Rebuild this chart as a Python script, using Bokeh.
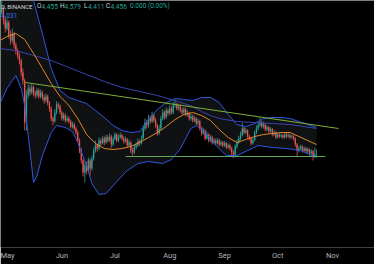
from bokeh.plotting import figure
from bokeh.models import Range1d, FixedTicker, ColumnDataSource
from bokeh.embed import file_html
from bokeh.resources import INLINE
from bokeh.core.properties import value

# ---------------- data (daily candles, day 0 = May 1) ----------------
days = list(range(-4, 176))
first_open = 7.90
close = [
    8.00, 8.10, 7.80, 7.60, 7.75, 7.43, 7.30, 7.48, 7.18, 7.05,
    6.93, 6.80, 6.50, 6.30, 5.25, 5.93, 6.10, 6.00, 6.13, 5.98,
    5.93, 6.05, 5.90, 6.00, 5.88, 5.80, 5.90, 5.73, 5.60, 5.35,
    5.28, 5.50, 5.70, 5.65, 5.50, 5.35, 5.43, 5.30, 5.35, 5.28,
    5.15, 5.20, 5.10, 5.00, 4.80, 4.55, 4.30, 4.00, 4.18, 4.05,
    4.30, 4.10, 4.35, 4.55, 4.68, 4.60, 4.80, 4.73, 4.85, 4.75,
    4.88, 4.80, 4.90, 4.70, 4.83, 4.95, 4.80, 4.88, 4.93, 4.85,
    4.78, 4.83, 4.68, 4.75, 4.55, 4.50, 4.63, 4.68, 4.78, 4.73,
    4.85, 5.10, 5.25, 5.18, 5.35, 5.28, 5.43, 5.30, 5.18, 4.98,
    5.10, 5.35, 5.50, 5.38, 5.55, 5.48, 5.60, 5.50, 5.68, 5.70,
    5.60, 5.65, 5.55, 5.50, 5.58, 5.45, 5.48, 5.35, 5.40, 5.30,
    5.35, 5.23, 5.28, 5.10, 4.98, 5.05, 4.85, 4.95, 4.80, 4.88,
    4.75, 4.80, 4.73, 4.80, 4.70, 4.75, 4.68, 4.73, 4.63, 4.68,
    4.60, 4.50, 4.45, 4.65, 4.75, 4.85, 4.93, 5.10, 5.00, 5.05,
    4.90, 4.85, 4.73, 4.80, 5.00, 5.10, 5.18, 5.25, 5.15, 5.20,
    5.08, 5.13, 5.03, 5.08, 4.95, 5.00, 4.88, 4.95, 4.90, 4.93,
    4.88, 4.95, 4.90, 4.93, 4.88, 4.90, 4.85, 4.70, 4.55, 4.60,
    4.65, 4.55, 4.60, 4.53, 4.58, 4.48, 4.53, 4.40, 4.455, 4.456,
]
high = [
    8.25, 8.35, 8.15, 7.90, 7.85, 7.80, 7.55, 7.60, 7.52, 7.25,
    7.10, 7.00, 6.85, 6.60, 6.35, 6.05, 6.20, 6.18, 6.22, 6.18,
    6.05, 6.12, 6.10, 6.08, 6.05, 5.95, 5.98, 5.95, 5.78, 5.65,
    5.40, 5.58, 5.78, 5.75, 5.70, 5.55, 5.50, 5.48, 5.42, 5.40,
    5.32, 5.27, 5.25, 5.15, 5.05, 4.85, 4.62, 4.35, 4.25, 4.28,
    4.38, 4.35, 4.42, 4.62, 4.80, 4.72, 4.88, 4.85, 4.92, 4.90,
    4.95, 4.93, 4.98, 4.94, 4.90, 5.00, 4.98, 4.95, 5.00, 4.97,
    4.90, 4.90, 4.86, 4.82, 4.78, 4.62, 4.70, 4.75, 4.85, 4.82,
    4.92, 5.18, 5.35, 5.32, 5.45, 5.42, 5.52, 5.48, 5.36, 5.22,
    5.18, 5.42, 5.58, 5.55, 5.62, 5.60, 5.68, 5.65, 5.76, 5.82,
    5.75, 5.72, 5.70, 5.62, 5.64, 5.62, 5.55, 5.52, 5.47, 5.45,
    5.42, 5.38, 5.35, 5.32, 5.15, 5.12, 5.08, 5.02, 4.98, 4.94,
    4.92, 4.86, 4.85, 4.86, 4.84, 4.80, 4.79, 4.78, 4.76, 4.73,
    4.72, 4.64, 4.55, 4.70, 4.82, 4.92, 5.02, 5.25, 5.15, 5.12,
    5.08, 4.95, 4.88, 4.86, 5.05, 5.18, 5.28, 5.38, 5.30, 5.27,
    5.23, 5.18, 5.16, 5.13, 5.11, 5.06, 5.03, 5.00, 4.98, 4.98,
    4.96, 5.00, 4.99, 4.98, 4.96, 4.95, 4.94, 4.88, 4.74, 4.66,
    4.70, 4.68, 4.65, 4.64, 4.62, 4.60, 4.58, 4.56, 4.62, 4.579,
]
low = [
    7.85, 7.95, 7.70, 7.50, 7.55, 7.35, 7.20, 7.25, 7.10, 6.95,
    6.85, 6.70, 6.40, 6.20, 5.05, 5.05, 5.85, 5.92, 5.95, 5.90,
    5.85, 5.88, 5.85, 5.85, 5.80, 5.72, 5.75, 5.68, 5.52, 5.28,
    5.18, 5.25, 5.45, 5.58, 5.45, 5.30, 5.30, 5.25, 5.26, 5.22,
    5.10, 5.10, 5.05, 4.95, 4.75, 4.48, 4.22, 3.90, 3.75, 3.95,
    4.00, 3.93, 4.05, 4.30, 4.50, 4.52, 4.56, 4.65, 4.70, 4.68,
    4.72, 4.75, 4.76, 4.62, 4.66, 4.80, 4.75, 4.76, 4.84, 4.80,
    4.72, 4.74, 4.62, 4.64, 4.48, 4.42, 4.46, 4.58, 4.64, 4.66,
    4.70, 4.82, 5.05, 5.10, 5.12, 5.22, 5.24, 5.25, 5.12, 4.92,
    4.94, 5.06, 5.30, 5.32, 5.34, 5.42, 5.44, 5.45, 5.46, 5.62,
    5.55, 5.55, 5.50, 5.44, 5.45, 5.40, 5.40, 5.30, 5.30, 5.25,
    5.26, 5.18, 5.18, 5.04, 4.92, 4.94, 4.80, 4.82, 4.75, 4.76,
    4.70, 4.72, 4.68, 4.70, 4.65, 4.66, 4.63, 4.64, 4.58, 4.60,
    4.55, 4.44, 4.36, 4.42, 4.60, 4.72, 4.80, 4.90, 4.95, 4.96,
    4.85, 4.80, 4.68, 4.70, 4.78, 4.96, 5.05, 5.14, 5.10, 5.10,
    5.03, 5.04, 4.98, 5.00, 4.90, 4.92, 4.84, 4.85, 4.86, 4.87,
    4.84, 4.85, 4.86, 4.87, 4.84, 4.85, 4.80, 4.65, 4.38, 4.50,
    4.56, 4.50, 4.52, 4.48, 4.49, 4.42, 4.44, 4.30, 4.36, 4.411,
]

# Bollinger basis (orange)
basis_days = [-4, 0, 5, 10, 15, 20, 25, 30, 35, 40, 45, 50, 55, 60, 65, 70, 75, 80, 85,
              90, 95, 100, 105, 110, 115, 120, 125, 130, 135, 140, 145, 150, 155, 160,
              165, 170, 175]
basis_vals = [7.30, 7.40, 7.475, 7.325, 6.975, 6.60, 6.225, 5.90, 5.675, 5.35, 4.95,
              4.725, 4.60, 4.575, 4.60, 4.65, 4.75, 4.875, 5.00, 5.15, 5.325, 5.45,
              5.50, 5.425, 5.30, 5.075, 4.875, 4.75, 4.825, 4.90, 4.95, 4.975, 5.00,
              5.00, 4.90, 4.80, 4.70]
# Bollinger upper band
upper_days = basis_days
upper_vals = [9.85, 9.55, 9.175, 8.825, 8.30, 7.475, 6.60, 6.05, 5.875, 5.80, 5.725,
              5.55, 5.375, 5.175, 5.05, 5.00, 5.025, 5.325, 5.575, 5.75, 5.85, 5.825,
              5.80, 5.875, 5.875, 5.75, 5.45, 5.20, 5.15, 5.225, 5.35, 5.375, 5.375,
              5.35, 5.275, 5.20, 5.125]
# Bollinger lower band
lower_days = [-4, 0, 3, 5, 8, 10, 12, 15, 17, 20, 25, 28, 33, 37, 40, 45, 48, 52, 56,
              62, 68, 74, 80, 88, 93, 98, 104, 107, 112, 117, 124, 130, 136, 142, 150,
              158, 166, 175]
lower_vals = [5.725, 6.10, 6.30, 6.425, 6.10, 5.675, 4.925, 3.75, 3.925, 4.425, 5.00,
              5.175, 5.125, 5.025, 4.75, 4.175, 3.725, 3.45, 3.475, 3.775, 4.05, 4.225,
              4.275, 4.225, 4.325, 4.60, 5.10, 5.175, 5.00, 4.725, 4.425, 4.425, 4.55,
              4.675, 4.625, 4.60, 4.55, 4.375]
# slow moving average (dark blue)
slow_days = [-4, 5, 15, 25, 35, 45, 55, 65, 75, 85, 95, 100, 105, 110, 115, 120, 130,
             140, 150, 160, 175]
slow_vals = [7.10, 7.05, 6.925, 6.80, 6.625, 6.45, 6.275, 6.125, 6.025, 5.925, 5.80,
             5.725, 5.65, 5.525, 5.425, 5.35, 5.275, 5.25, 5.225, 5.20, 5.10]
# drawn trend lines
trend_days = [10.46, 187.4]
trend_vals = [6.25, 5.10]
support_days = [67, 180]
support_vals = [4.40, 4.40]

month_ticks = [0, 31, 61, 92, 123, 153, 184]
month_labels = ["May", "Jun", "Jul", "Aug", "Sep", "Oct", "Nov"]

# ---------------- figure ----------------
W, H = 374, 264
X0, X1 = -3.674, 207.75
Y0, Y1 = 2.125, 8.3

p = figure(width=W, height=H, output_backend="svg", toolbar_location=None,
           x_range=Range1d(X0, X1), y_range=Range1d(Y0, Y1),
           y_axis_location=None, min_border_left=0, min_border_right=0,
           min_border_top=0, min_border_bottom=17)
p.background_fill_color = "#000000"
p.border_fill_color = "#000000"
p.outline_line_color = None
p.xgrid.visible = False
p.ygrid.visible = False

ax = p.xaxis[0]
ax.ticker = FixedTicker(ticks=month_ticks)
ax.major_label_overrides = {t: l for t, l in zip(month_ticks, month_labels)}
ax.axis_line_color = None
ax.major_tick_line_color = None
ax.minor_tick_line_color = None
ax.major_tick_out = 0
ax.major_tick_in = 0
ax.major_label_standoff = 3
ax.major_label_text_font = "Roboto"
ax.major_label_text_font_size = "7.5px"
ax.major_label_text_color = "#b2b5be"

# band fill
p.patch(upper_days + lower_days[::-1], upper_vals + lower_vals[::-1],
        fill_color="#9598a1", fill_alpha=0.11, line_color=None)

# candles
opens = [first_open] + close[:-1]
up = [c >= o for o, c in zip(opens, close)]
colors = ["#26a69a" if u else "#ef5350" for u in up]
src = ColumnDataSource(dict(
    x=days, o=opens, c=close, h=high, l=low,
    top=[max(o, c) for o, c in zip(opens, close)],
    bot=[min(o, c) for o, c in zip(opens, close)],
    col=colors))
p.segment(x0="x", y0="h", x1="x", y1="l", line_color="col", line_width=0.8, source=src)
p.vbar(x="x", width=0.72, top="top", bottom="bot", fill_color="col",
       line_color=None, source=src)

# indicators
p.line(upper_days, upper_vals, line_color="#2f57e0", line_width=1)
p.line(lower_days, lower_vals, line_color="#2f57e0", line_width=1)
p.line(slow_days, slow_vals, line_color="#3a45b0", line_width=1)
p.line(basis_days, basis_vals, line_color="#e0872a", line_width=1)
p.line(trend_days, trend_vals, line_color="#7fae3c", line_width=1)
p.line(support_days, support_vals, line_color="#5fa85a", line_width=1)

# header legend text (layout in pixels converted to data coords)
def px(xp):
    return X0 + xp * (X1 - X0) / W

def py(yp):
    return Y1 - yp * (Y1 - Y0) / 247.0

G = "#26a69a"
Wt = "#d1d4dc"
p.text(x=[px(0.5)], y=[py(5.5)], text=["D, BINANCE"], text_color=Wt,
       text_font=value("Roboto"), text_font_size="6px", text_baseline="middle",
       text_align="left")
pieces = [(36.5, "O", Wt), (41, "4.455", G),
          (59.5, "H", Wt), (64, "4.579", G), (83.5, "L", Wt), (87.5, "4.411", G),
          (105.5, "C", Wt), (110, "4.456", G), (129.5, "0.000 (0.00%)", G)]
hsrc = ColumnDataSource(dict(x=[px(a) for a, _, _ in pieces],
                             y=[py(5.5)] * len(pieces),
                             t=[b for _, b, _ in pieces],
                             col=[c for _, _, c in pieces]))
p.text(x="x", y="y", text="t", text_color="col", text_font=value("Roboto"),
       text_font_size="6.5px", text_baseline="middle", text_align="left", source=hsrc)
p.text(x=[px(0.5)], y=[py(14.5)], text=["4.031"], text_color="#3d7cf5",
       text_font=value("Roboto"), text_font_size="6.5px", text_baseline="middle",
       text_align="left")

open("out.html", "w").write(file_html(p, INLINE))
